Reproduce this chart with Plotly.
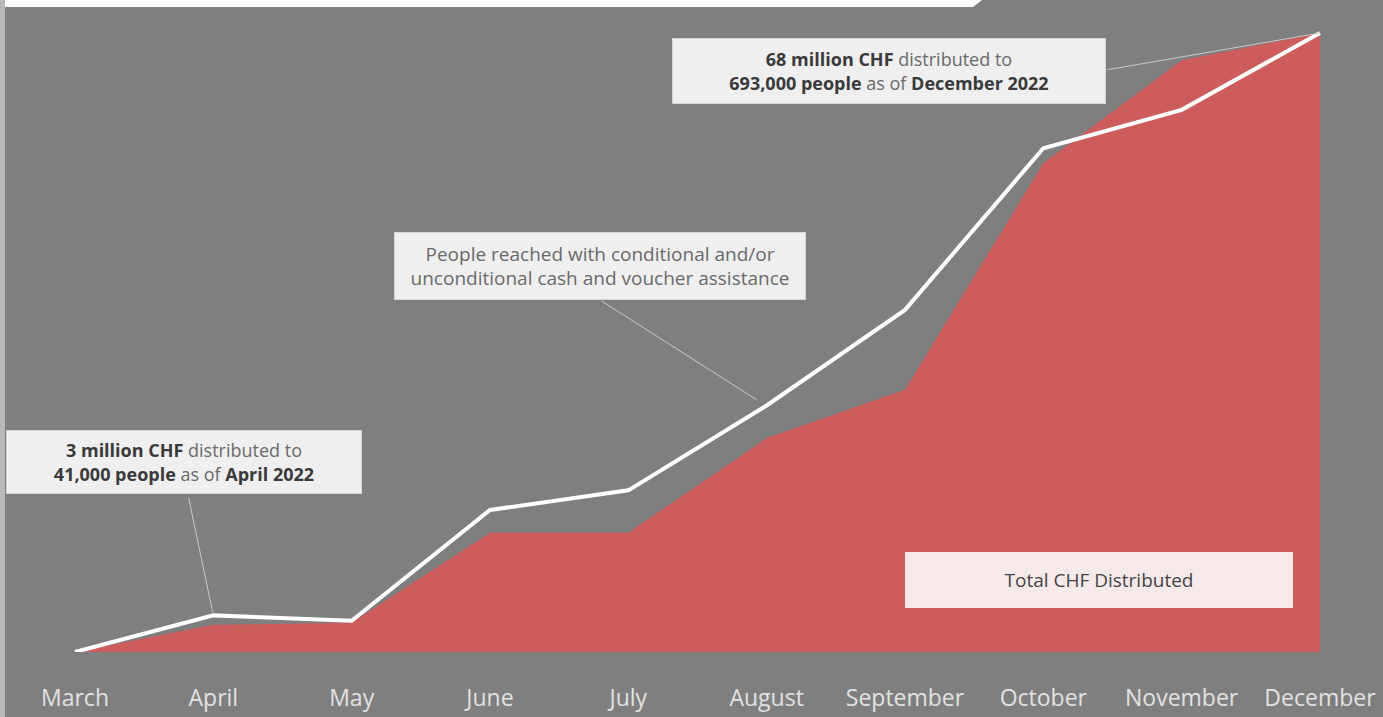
import plotly.graph_objects as go

# Monthly cumulative totals, 2022
months = ["March", "April", "May", "June", "July", "August",
          "September", "October", "November", "December"]
chf_millions = [0, 3, 3.2, 13.1, 13.1, 23.5, 28.8, 53.7, 65, 68]
people_reached = [0, 41000, 35000, 159000, 181000, 276000,
                  383000, 564000, 607000, 693000]

W, H = 1383, 717
MT, MB = 0, 65
PLOT_H = H - MT - MB
TOP_FRAC = 619 / PLOT_H  # share of the plot height used by the peak value

BG = "#7f7f7f"
RED = "#cd5c5c"
BOX = "#efefef"
BOX_EDGE = "#d4d4d4"
DARK = "#3a3a3a"
MID = "#6a6a6a"
LEADER = "#c8c8c8"
FONT = "Open Sans"


def px_x(px):
    return px / W


def px_y(py):
    return (H - MB - py) / PLOT_H


fig = go.Figure()

fig.add_trace(go.Scatter(
    x=months, y=chf_millions, mode="lines",
    line=dict(width=0, color=RED), fill="tozeroy", fillcolor=RED,
    hoverinfo="skip", yaxis="y",
))
fig.add_trace(go.Scatter(
    x=months, y=people_reached, mode="lines",
    line=dict(width=4, color="white"),
    hoverinfo="skip", yaxis="y2",
))


def rich(parts):
    out = []
    for txt, bold in parts:
        if bold:
            out.append(f"<b><span style='color:{DARK}'>{txt}</span></b>")
        else:
            out.append(f"<span style='color:{MID}'>{txt}</span>")
    return "".join(out)


def callout(text, x0, x1, y0, y1, fill=BOX, edge=BOX_EDGE, color=MID, size=19):
    fig.add_annotation(
        xref="paper", yref="paper",
        x=px_x((x0 + x1) / 2), y=px_y((y0 + y1) / 2),
        xanchor="center", yanchor="middle",
        width=x1 - x0 - 2, height=y1 - y0 - 2,
        text=text, showarrow=False, align="center",
        bgcolor=fill, bordercolor=edge, borderwidth=1, borderpad=0,
        font=dict(family=FONT, size=size, color=color),
    )


callout(rich([("3 million CHF", True), (" distributed to", False)]) + "<br>" +
        rich([("41,000 people", True), (" as of ", False), ("April 2022", True)]),
        6, 362, 430, 494, size=18)
callout(rich([("68 million CHF", True), (" distributed to", False)]) + "<br>" +
        rich([("693,000 people", True), (" as of ", False), ("December 2022", True)]),
        672, 1106, 38, 104, size=18)
callout("People reached with conditional and/or<br>"
        "unconditional cash and voucher assistance",
        394, 806, 232, 300, size=19)
callout("Total CHF Distributed", 905, 1293, 552, 608,
        fill="#f6e9e9", edge="#f6e9e9", color="#444444", size=19)

# leader lines from the callouts to the line
fig.add_annotation(x=1, y=people_reached[1], xref="x", yref="y2",
                   ax=-25, ay=-119, text="", showarrow=True, arrowhead=0,
                   arrowwidth=1, arrowcolor=LEADER, standoff=3)
fig.add_annotation(x=9, y=people_reached[9], xref="x", yref="y2",
                   ax=-214, ay=37, text="", showarrow=True, arrowhead=0,
                   arrowwidth=1, arrowcolor=LEADER, standoff=0)
fig.add_annotation(x=px_x(757), y=px_y(400), xref="paper", yref="paper",
                   ax=-157, ay=-100, text="", showarrow=True, arrowhead=0,
                   arrowwidth=1, arrowcolor=LEADER, standoff=0)

# white header band along the top edge and thin frame strip on the left
fig.add_shape(type="path", xref="paper", yref="paper",
              path=f"M 0 1 L {px_x(982)} 1 L {px_x(973)} {px_y(7)} L 0 {px_y(7)} Z",
              fillcolor="white", line=dict(width=0), layer="above")
fig.add_shape(type="rect", xref="paper", yref="paper",
              x0=0, x1=px_x(5), y0=px_y(H), y1=1,
              fillcolor="#b9b9b9", line=dict(width=0), layer="above")

x_step = 138.33
x_first = 75
fig.update_layout(
    width=W, height=H,
    margin=dict(l=0, r=0, t=MT, b=MB, pad=0, autoexpand=False),
    paper_bgcolor=BG, plot_bgcolor=BG,
    showlegend=False,
    xaxis=dict(
        type="category", automargin=False,
        range=[-x_first / x_step, (W - x_first) / x_step],
        showgrid=False, zeroline=False, showline=False, ticks="",
        tickfont=dict(family=FONT, size=23, color="#e2e2e2"),
        ticklabelstandoff=30,
    ),
    yaxis=dict(range=[0, max(chf_millions) / TOP_FRAC], visible=False,
               showgrid=False, zeroline=False, automargin=False),
    yaxis2=dict(range=[0, max(people_reached) / TOP_FRAC], visible=False,
                overlaying="y", showgrid=False, zeroline=False, automargin=False),
)

fig.write_html("out.html")
